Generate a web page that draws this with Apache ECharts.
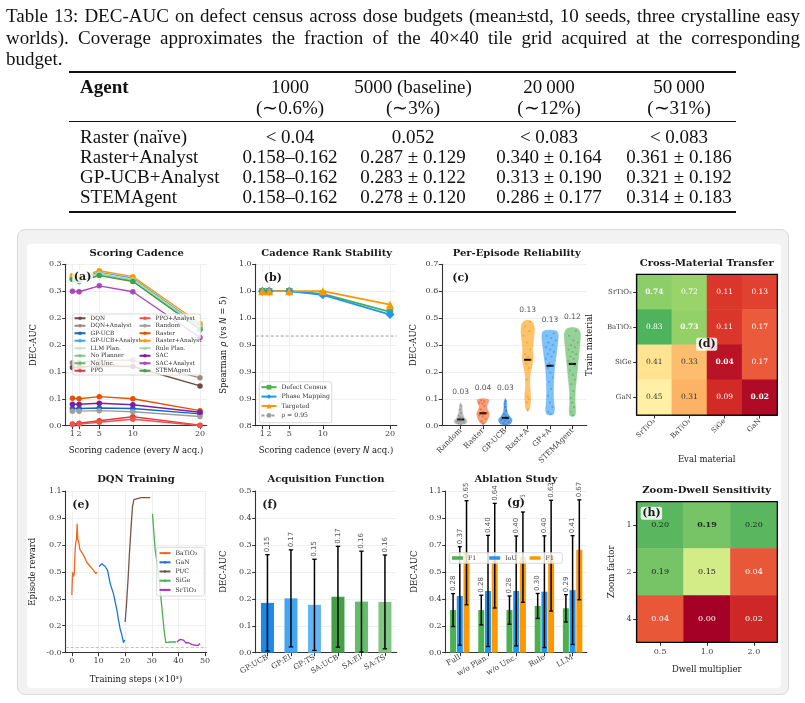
<!DOCTYPE html>
<html>
<head>
<meta charset="utf-8">
<script src="https://cdn.jsdelivr.net/npm/echarts@6/dist/echarts.min.js"></script>
<style>
  html, body { margin: 0; padding: 0; background: #fff; width: 805px; height: 703px; overflow: hidden; }
  #frame { position: absolute; left: 17px; top: 229px; width: 770px; height: 464px; background: #f2f2f2;
           border: 1px solid #d9d9d9; border-radius: 8px; }
  #inner { position: absolute; left: 27px; top: 244px; width: 754px; height: 444px; background: #fff; border-radius: 3px; }
  #chart { position: absolute; left: 0; top: 0; width: 805px; height: 703px; }
  .t { position: absolute; font-family: 'Liberation Serif', serif; font-size: 19px; color: #111; white-space: nowrap; line-height: 20px; }
  .cap { left: 6px; width: 794px; }
  .just { text-align: justify; text-align-last: justify; }
  .c { transform: translate(-50%, -50%); }
  .l { transform: translateY(-50%); }
  .rule { position: absolute; background: #111; }
</style>
</head>
<body>
<div id="frame"></div>
<div id="inner"></div>
<div id="chart"></div>
<div id="doc"></div>
<script>
// ---------------- caption + table ----------------
const captionLines = [
  'Table 13: DEC-AUC on defect census across dose budgets (mean\u00b1std, 10 seeds, three crystalline easy',
  'worlds). Coverage approximates the fraction of the 40\u00d740 tile grid acquired at the corresponding',
  'budget.'
];
const budgetHead = ['1000', '5000 (baseline)', '20\u2009000', '50\u2009000'];
const coverageHead = ['(\u223c0.6%)', '(\u223c3%)', '(\u223c12%)', '(\u223c31%)'];
const tableAgents = ['Raster (na\u00efve)', 'Raster+Analyst', 'GP-UCB+Analyst', 'STEMAgent'];
const tableCells = [
  ['< 0.04', '0.052', '< 0.083', '< 0.083'],
  ['0.158\u20130.162', '0.287 \u00b1 0.129', '0.340 \u00b1 0.164', '0.361 \u00b1 0.186'],
  ['0.158\u20130.162', '0.283 \u00b1 0.122', '0.313 \u00b1 0.190', '0.321 \u00b1 0.192'],
  ['0.158\u20130.162', '0.278 \u00b1 0.120', '0.286 \u00b1 0.177', '0.314 \u00b1 0.183']
];

// ---------------- (a) scoring cadence ----------------
const cadence = [1, 2, 5, 10, 20];
const aDQN           = [0.108, 0.109, 0.111, 0.110, 0.074];
const aDQNAnalyst    = [0.117, 0.118, 0.121, 0.122, 0.089];
const aGPUCB         = [0.032, 0.032, 0.033, 0.032, 0.022];
const aGPUCBAnalyst  = [0.276, 0.274, 0.285, 0.274, 0.185];
const aLLMPlan       = [0.275, 0.272, 0.283, 0.272, 0.183];
const aNoPlanner     = [0.273, 0.270, 0.281, 0.270, 0.181];
const aNoUnc         = [0.272, 0.269, 0.280, 0.269, 0.180];
const aPPO           = [0.003, 0.0045, 0.0093, 0.0167, 0.001];
const aPPOAnalyst    = [0.002, 0.003, 0.0063, 0.0119, 0.0005];
const aRandom        = [0.027, 0.027, 0.028, 0.026, 0.017];
const aRaster        = [0.051, 0.050, 0.054, 0.050, 0.028];
const aRasterAnalyst = [0.279, 0.277, 0.288, 0.277, 0.190];
const aRulePlan      = [0.274, 0.271, 0.282, 0.271, 0.182];
const aSAC           = [0.040, 0.040, 0.0416, 0.039, 0.025];
const aSACAnalyst    = [0.250, 0.249, 0.260, 0.249, 0.164];
const aSTEMAgent     = [0.272, 0.268, 0.279, 0.268, 0.179];
const aYTicks = [0, 0.05, 0.1, 0.15, 0.2, 0.25, 0.3];
const aYLabels = ['0.0', '0.1', '0.1', '0.2', '0.2', '0.3', '0.3'];

// ---------------- (b) rank stability ----------------
const bDefect   = [1.0, 1.0, 1.0, 0.997, 0.977];
const bPhase    = [1.0, 1.0, 1.0, 0.996, 0.974];
const bTargeted = [1.0, 1.0, 1.0, 1.0, 0.985];
const bRho = 0.95;
const bYTicks = [0.85, 0.88, 0.91, 0.94, 0.97, 1.0, 1.03];
const bYLabels = ['0.8', '0.9', '0.9', '0.9', '1.0', '1.0', '1.0'];

// ---------------- (c) per-episode reliability ----------------
const cNames  = ['Random', 'Raster', 'GP-UCB', 'Rast+A', 'GP+A', 'STEMAgent'];
const cMedian = [0.027, 0.054, 0.034, 0.286, 0.260, 0.268];
const cStdLabels = ['0.03', '0.04', '0.03', '0.13', '0.13', '0.12'];
// violin outlines: [value, half-width]
const cShapeRandom = [[0.005,0],[0.008,0.2],[0.015,0.28],[0.025,0.26],[0.035,0.17],[0.05,0.1],[0.07,0.07],[0.09,0.045],[0.1,0]];
const cShapeRaster = [[0.005,0],[0.012,0.12],[0.025,0.2],[0.04,0.26],[0.055,0.28],[0.07,0.2],[0.085,0.17],[0.1,0.24],[0.113,0.25],[0.118,0]];
const cShapeGPUCB  = [[0.002,0],[0.006,0.2],[0.015,0.28],[0.028,0.3],[0.04,0.2],[0.055,0.1],[0.07,0.07],[0.09,0.06],[0.11,0.04],[0.118,0]];
const cShapeRastA  = [[0.061,0],[0.075,0.08],[0.1,0.12],[0.13,0.13],[0.17,0.1],[0.21,0.1],[0.25,0.17],[0.29,0.24],[0.33,0.22],[0.37,0.26],[0.41,0.3],[0.44,0.27],[0.452,0.18],[0.458,0]];
const cShapeGPA    = [[0.046,0],[0.05,0.15],[0.07,0.2],[0.1,0.17],[0.15,0.15],[0.2,0.17],[0.25,0.2],[0.3,0.27],[0.35,0.33],[0.39,0.37],[0.41,0.3],[0.415,0]];
const cShapeSTEM   = [[0.039,0],[0.045,0.12],[0.07,0.14],[0.1,0.12],[0.15,0.13],[0.2,0.18],[0.25,0.23],[0.3,0.28],[0.35,0.33],[0.4,0.36],[0.42,0.25],[0.427,0]];
const cPtsRandom = [0.006,0.01,0.013,0.016,0.018,0.02,0.022,0.024,0.027,0.03,0.033,0.038,0.045,0.055,0.07,0.085];
const cPtsRaster = [0.01,0.02,0.03,0.04,0.045,0.05,0.052,0.056,0.06,0.07,0.085,0.095,0.1,0.105,0.11];
const cPtsGPUCB  = [0.006,0.01,0.015,0.02,0.024,0.028,0.032,0.036,0.04,0.05,0.065,0.08,0.095,0.105];
const cPtsRastA  = [0.07,0.1,0.115,0.125,0.2,0.25,0.27,0.285,0.3,0.31,0.33,0.36,0.39,0.41,0.43,0.45];
const cPtsGPA    = [0.05,0.06,0.08,0.1,0.13,0.16,0.19,0.21,0.23,0.25,0.26,0.27,0.29,0.3,0.31,0.32,0.33,0.34,0.35,0.36,0.37,0.38,0.39,0.4];
const cPtsSTEM   = [0.045,0.06,0.08,0.1,0.12,0.15,0.18,0.2,0.22,0.24,0.26,0.27,0.28,0.29,0.3,0.31,0.32,0.33,0.34,0.35,0.36,0.37,0.39,0.41];
const cYTicks = [0, 0.11667, 0.23333, 0.35, 0.46667, 0.58333, 0.7];
const cYLabels = ['0.0', '0.1', '0.2', '0.3', '0.5', '0.6', '0.7'];

// ---------------- (d) cross-material transfer ----------------
const dMaterials = ['SrTiO\u2083', 'BaTiO\u2083', 'SiGe', 'GaN'];
const dTransfer = [
  [0.74, 0.72, 0.11, 0.13],
  [0.83, 0.73, 0.11, 0.17],
  [0.41, 0.33, 0.04, 0.17],
  [0.45, 0.31, 0.09, 0.02]
];

// ---------------- (e) DQN training ----------------
const eBaTiO3 = [[0,0.37],[0.25,0.53],[0.6,0.50],[0.9,0.52],[1.25,0.69],[1.5,0.74],[1.75,0.76],[2.0,0.87],[2.25,0.76],[2.6,0.74],[3.0,0.69],[3.5,0.70],[4.4,0.65],[5.6,0.60],[6.9,0.57],[8.1,0.545],[9.0,0.52],[9.6,0.53]];
const eGaN    = [[10.25,0.57],[11.25,0.59],[12.5,0.57],[13.4,0.545],[14.4,0.45],[15.6,0.38],[16.9,0.265],[17.5,0.195],[18.1,0.135],[18.75,0.09],[19.4,0.035],[19.8,0.055]];
const ePtC    = [[20,0.18],[20.5,0.30],[21.1,0.48],[21.6,0.66],[22.25,0.85],[22.75,0.99],[23.3,1.04],[23.75,1.053],[26,1.053],[29.4,1.053]];
const eSiGe   = [[30.25,0.94],[31.25,0.69],[31.8,0.62],[32.5,0.52],[33.75,0.29],[34.6,0.125],[35.25,0.035],[36.9,0.04],[39.1,0.04]];
const eSrTiO3 = [[39.4,0.04],[40.6,0.058],[41.9,0.053],[42.75,0.035],[43.75,0.035],[45,0.023],[46.5,0.016],[47.5,0.017],[48.1,0.03]];
const eXTicks = [0, 10, 20, 30, 40, 50];
const eXLabels = ['0', '10', '20', '30', '40', '50'];
const eYTicks = [-0.035, 0.15417, 0.34333, 0.5325, 0.72167, 0.91083, 1.1];
const eYLabels = ['-0.0', '0.2', '0.3', '0.5', '0.7', '0.9', '1.1'];

// ---------------- (f) acquisition function ----------------
const fNames = ['GP:UCB', 'GP:EI', 'GP:TS', 'SA:UCB', 'SA:EI', 'SA:TS'];
const fMean  = [0.154, 0.168, 0.148, 0.173, 0.158, 0.157];
const fStd   = [0.149, 0.150, 0.141, 0.156, 0.156, 0.145];
const fYTicks = [0, 0.08333, 0.16667, 0.25, 0.33333, 0.41667, 0.5];
const fYLabels = ['0.0', '0.1', '0.2', '0.2', '0.3', '0.4', '0.5'];

// ---------------- (g) ablation ----------------
const gNames = ['Full', 'w/o Plan.', 'w/o Unc.', 'Rule', 'LLM'];
const gF1    = [0.290, 0.290, 0.290, 0.318, 0.302];
const gF1Sd  = [0.112, 0.101, 0.096, 0.085, 0.093];
const gIoU   = [0.386, 0.420, 0.420, 0.415, 0.426];
const gIoUSd = [0.335, 0.378, 0.374, 0.380, 0.370];
const gF1b   = [0.680, 0.660, 0.650, 0.660, 0.700];
const gF1bSd = [0.354, 0.356, 0.307, 0.377, 0.340];
const gF1Text   = ['0.28', '0.28', '0.28', '0.30', '0.29'];
const gIoUText  = ['0.37', '0.40', '0.40', '0.40', '0.41'];
const gF1bText  = ['0.65', '0.64', '0.65', '0.63', '0.67'];
const gYTicks = [0, 0.18333, 0.36667, 0.55, 0.73333, 0.91667, 1.1];
const gYLabels = ['0.0', '0.2', '0.4', '0.5', '0.7', '0.9', '1.1'];

// ---------------- (h) zoom-dwell ----------------
const hDwell = ['0.5', '1.0', '2.0'];
const hZoom = ['1', '2', '4'];
const hSens = [
  [0.20, 0.19, 0.20],
  [0.19, 0.15, 0.04],
  [0.04, 0.00, 0.02]
];

// ================= page text =================
const doc = document.getElementById('doc');
function put(text, x, y, cls, extra) {
  const d = document.createElement('div');
  d.className = 't ' + (cls || '');
  d.textContent = text;
  d.style.left = x + 'px';
  d.style.top = y + 'px';
  if (extra) Object.assign(d.style, extra);
  doc.appendChild(d);
  return d;
}
function rule(x, y, w, h) {
  const d = document.createElement('div');
  d.className = 'rule';
  Object.assign(d.style, {left: x + 'px', top: y + 'px', width: w + 'px', height: h + 'px'});
  doc.appendChild(d);
}
captionLines.forEach(function (s, i) {
  const d = put(s, 6, 5 + i * 21.5, 'cap' + (i < 2 ? ' just' : ''));
  d.style.lineHeight = '21px';
});
const colX = [290, 413, 549, 679];
rule(69, 71, 667, 1.5);
put('Agent', 80, 87, 'l', {fontWeight: 'bold'});
budgetHead.forEach(function (s, j) { put(s, colX[j], 87, 'c'); });
coverageHead.forEach(function (s, j) { put(s, colX[j], 108, 'c'); });
rule(69, 121, 667, 1);
tableAgents.forEach(function (a, i) {
  put(a, 80, 137 + i * 20, 'l');
  tableCells[i].forEach(function (s, j) { put(s, colX[j], 137 + i * 20, 'c'); });
});
rule(69, 211, 667, 1.5);

// ================= chart =================
const SERIF = 'DejaVu Serif';
const SANS = 'DejaVu Sans';

function pick(v, ticks, labels) {
  for (let i = 0; i < ticks.length; i++) {
    if (Math.abs(ticks[i] - v) < 1e-6) return labels[i];
  }
  return '';
}
function merge(base, more) {
  if (!more) return base;
  for (const k in more) {
    if (more[k] && typeof more[k] === 'object' && !Array.isArray(more[k]) && base[k] && typeof base[k] === 'object') {
      base[k] = Object.assign({}, base[k], more[k]);
    } else {
      base[k] = more[k];
    }
  }
  return base;
}
function valueAxis(gi, min, max, ticks, labels, more) {
  return merge({
    type: 'value', gridIndex: gi, min: min, max: max,
    axisLine: {show: true, onZero: false, lineStyle: {color: '#333', width: 1.1}},
    axisTick: {show: true, length: 3.5, customValues: ticks, lineStyle: {color: '#333', width: 1}},
    axisLabel: {customValues: ticks, formatter: function (v) { return pick(v, ticks, labels); },
      fontFamily: SERIF, fontSize: 8, color: '#3c3c3c', margin: 4},
    splitLine: {show: true, lineStyle: {color: '#ebebeb', width: 0.8}}
  }, more);
}
function catAxis(gi, names, more) {
  return merge({
    type: 'category', gridIndex: gi, data: names, boundaryGap: true,
    axisLine: {show: true, onZero: false, lineStyle: {color: '#333', width: 1.1}},
    axisTick: {show: true, alignWithLabel: true, length: 3.5, lineStyle: {color: '#333', width: 1}},
    axisLabel: {fontFamily: SERIF, fontSize: 7.5, color: '#3c3c3c', margin: 4, interval: 0},
    splitLine: {show: false}
  }, more);
}

const grids = [
  {left: 65.7, top: 264.3, width: 141, height: 161.4},
  {left: 255.7, top: 264.3, width: 141, height: 161.4},
  {left: 442.3, top: 264.3, width: 144.4, height: 161.4},
  {left: 636.7, top: 274.3, width: 140.6, height: 140.7},
  {left: 65.7, top: 491, width: 141, height: 161.7},
  {left: 255.7, top: 491, width: 141, height: 161.7},
  {left: 445.7, top: 491, width: 141, height: 161.7},
  {left: 636.7, top: 501.7, width: 140.6, height: 140.6}
].map(function (g) { return Object.assign({containLabel: false, outerBoundsMode: 'none'}, g); });

const xAxes = [
  valueAxis(0, 0, 21, cadence, cadence.map(String)),
  valueAxis(1, 0, 21, cadence, cadence.map(String)),
  valueAxis(2, -0.82, 5.64, [0, 1, 2, 3, 4, 5], cNames, {
    splitLine: {show: false}, axisLabel: {rotate: 45, fontSize: 7.5, margin: 4}}),
  catAxis(3, dMaterials, {axisLine: {lineStyle: {color: '#000', width: 1.2}}, axisLabel: {rotate: 45, fontSize: 7, margin: 5}}),
  valueAxis(4, -2.3, 50.6, eXTicks, eXLabels),
  catAxis(5, fNames, {axisLabel: {rotate: 30, fontSize: 7.5}}),
  catAxis(6, gNames, {axisLabel: {rotate: 30, fontSize: 7.5}}),
  catAxis(7, hDwell, {axisLine: {lineStyle: {color: '#000', width: 1.2}}, axisLabel: {fontSize: 8, margin: 6}})
];
const yAxes = [
  valueAxis(0, 0, 0.3, aYTicks, aYLabels),
  valueAxis(1, 0.85, 1.03, bYTicks, bYLabels),
  valueAxis(2, 0, 0.7, cYTicks, cYLabels),
  catAxis(3, dMaterials, {inverse: true, axisLine: {lineStyle: {color: '#000', width: 1.2}}, axisLabel: {fontSize: 7, margin: 5}}),
  valueAxis(4, -0.035, 1.1, eYTicks, eYLabels),
  valueAxis(5, 0, 0.5, fYTicks, fYLabels),
  valueAxis(6, 0, 1.1, gYTicks, gYLabels),
  catAxis(7, hZoom, {inverse: true, axisLine: {lineStyle: {color: '#000', width: 1.2}}, axisLabel: {fontSize: 8, margin: 5}})
];

const series = [];
const legends = [];

// (a)
const aSeries = [
  ['DQN', aDQN, '#6d4c41'], ['DQN+Analyst', aDQNAnalyst, '#a1887f'],
  ['GP-UCB', aGPUCB, '#1565c0'], ['GP-UCB+Analyst', aGPUCBAnalyst, '#42a5f5'],
  ['LLM Plan.', aLLMPlan, '#c8e6c9'], ['No Planner', aNoPlanner, '#81c784'],
  ['No Unc.', aNoUnc, '#66bb6a'], ['PPO', aPPO, '#e53935'],
  ['PPO+Analyst', aPPOAnalyst, '#ef5350'], ['Random', aRandom, '#9e9e9e'],
  ['Raster', aRaster, '#e65100'], ['Raster+Analyst', aRasterAnalyst, '#ff9800'],
  ['Rule Plan.', aRulePlan, '#a5d6a7'], ['SAC', aSAC, '#7b1fa2'],
  ['SAC+Analyst', aSACAnalyst, '#ab47bc'], ['STEMAgent', aSTEMAgent, '#43a047']
];
aSeries.forEach(function (s) {
  series.push({
    type: 'line', name: s[0], xAxisIndex: 0, yAxisIndex: 0,
    data: cadence.map(function (c, j) { return [c, s[1][j]]; }),
    symbol: 'circle', symbolSize: 5.5, showSymbol: true,
    lineStyle: {color: s[2], width: 1.4}, itemStyle: {color: s[2]}, z: 3
  });
});
const aNames = aSeries.map(function (s) { return s[0]; });
const legendText = function (size, lh) {
  return {fontFamily: SERIF, fontSize: size, lineHeight: lh, color: '#333'};
};
legends.push({orient: 'vertical', left: 73.5, top: 314.5, itemWidth: 11, itemHeight: 4.5, itemGap: 0, padding: 0,
  data: aNames.slice(0, 8), textStyle: legendText(5.8, 7.5), selectedMode: false, z: 30});
legends.push({orient: 'vertical', left: 138.5, top: 314.5, itemWidth: 11, itemHeight: 4.5, itemGap: 0, padding: 0,
  data: aNames.slice(8), textStyle: legendText(5.8, 7.5), selectedMode: false, z: 30});

// (b)
[['Defect Census', bDefect, '#4caf50', 'rect', 6.5],
 ['Phase Mapping', bPhase, '#2196f3', 'diamond', 9],
 ['Targeted', bTargeted, '#ff9800', 'triangle', 8]].forEach(function (s) {
  series.push({
    type: 'line', name: s[0], xAxisIndex: 1, yAxisIndex: 1,
    data: cadence.map(function (c, j) { return [c, s[1][j]]; }),
    symbol: s[3], symbolSize: s[4], lineStyle: {color: s[2], width: 1.8}, itemStyle: {color: s[2]}, z: 3
  });
});
series.push({
  type: 'line', name: '\u03c1 = 0.95', xAxisIndex: 1, yAxisIndex: 1,
  data: [[0, bRho], [21, bRho]], symbol: 'none',
  lineStyle: {color: '#9e9e9e', width: 1, type: [3, 2]}, itemStyle: {color: '#9e9e9e'}, z: 2
});
legends.push({orient: 'vertical', left: 260.5, top: 382.5, itemWidth: 15, itemHeight: 6, itemGap: 0, padding: 0,
  data: ['Defect Census', 'Phase Mapping', 'Targeted', '\u03c1 = 0.95'],
  textStyle: legendText(6.2, 9.4), selectedMode: false, z: 30});

// (c)
const cShapes = [cShapeRandom, cShapeRaster, cShapeGPUCB, cShapeRastA, cShapeGPA, cShapeSTEM];
const cPoints = [cPtsRandom, cPtsRaster, cPtsGPUCB, cPtsRastA, cPtsGPA, cPtsSTEM];
const cColors = ['#9e9e9e', '#f4733a', '#1e7fd8', '#ffa726', '#42a5f5', '#66bb6a'];
const cDots = ['#757575', '#d84315', '#1565c0', '#ef8a00', '#1e88e5', '#43a047'];
function halfAt(prof, v) {
  if (v <= prof[0][0]) return prof[0][1];
  for (let k = 1; k < prof.length; k++) {
    if (v <= prof[k][0]) {
      const a = prof[k - 1], b = prof[k];
      return a[1] + (v - a[0]) / (b[0] - a[0]) * (b[1] - a[1]);
    }
  }
  return 0;
}
series.push({
  type: 'custom', name: 'violins', xAxisIndex: 2, yAxisIndex: 2,
  data: cNames.map(function (n, i) { return [i, cMedian[i]]; }),
  encode: {x: 0, y: 1}, clip: false, z: 2,
  renderItem: function (params, api) {
    const i = api.value(0);
    const prof = cShapes[i];
    const right = prof.map(function (p) { return api.coord([i + p[1], p[0]]); });
    const left = prof.map(function (p) { return api.coord([i - p[1], p[0]]); }).reverse();
    const m0 = api.coord([i - 0.16, api.value(1)]);
    const m1 = api.coord([i + 0.16, api.value(1)]);
    const top = api.coord([i, prof[prof.length - 1][0] + 0.045]);
    return {type: 'group', children: [
      {type: 'polygon', shape: {points: right.concat(left), smooth: 0.25},
       style: {fill: cColors[i], opacity: 0.68, stroke: cColors[i], lineWidth: 0.5}},
      {type: 'line', shape: {x1: m0[0], y1: m0[1], x2: m1[0], y2: m1[1]}, style: {stroke: '#000', lineWidth: 2}, z2: 20},
      {type: 'text', x: top[0], y: top[1],
       style: {text: cStdLabels[i], fill: '#555', fontSize: 7.5, fontFamily: SANS,
               align: 'center', verticalAlign: 'middle', textAlign: 'center', textVerticalAlign: 'middle'}}
    ]};
  }
});
const cScatter = [];
cPoints.forEach(function (pts, i) {
  pts.forEach(function (v, k) {
    const s = (((k + 1) * 0.6180339) % 1) * 2 - 1;
    cScatter.push({value: [i + s * 0.75 * halfAt(cShapes[i], v), v], itemStyle: {color: cDots[i]}});
  });
});
series.push({
  type: 'scatter', name: 'episodes', xAxisIndex: 2, yAxisIndex: 2, data: cScatter,
  symbolSize: 2.3, itemStyle: {opacity: 0.45}, z: 3
});

// (d) heatmap
const dData = [];
dTransfer.forEach(function (row, r) {
  row.forEach(function (v, c) {
    dData.push({value: [c, r, v], label: {
      color: (v < 0.25 || v > 0.6) ? '#fff' : '#333',
      fontWeight: r === c ? 'bold' : 'normal'}});
  });
});
const dIndex = series.length;
series.push({
  type: 'heatmap', name: 'transfer', xAxisIndex: 3, yAxisIndex: 3, data: dData,
  label: {show: true, fontFamily: SERIF, fontSize: 7.5, formatter: function (p) { return p.value[2].toFixed(2); }},
  itemStyle: {borderWidth: 0}, z: 2
});

// (e)
[['BaTiO\u2083', eBaTiO3, '#f4661b'], ['GaN', eGaN, '#1e73d2'], ['Pt/C', ePtC, '#795548'],
 ['SiGe', eSiGe, '#4caf50'], ['SrTiO\u2083', eSrTiO3, '#a830c0']].forEach(function (s, i) {
  const o = {
    type: 'line', name: s[0], xAxisIndex: 4, yAxisIndex: 4, data: s[1], symbol: 'none',
    lineStyle: {color: s[2], width: 1.3}, itemStyle: {color: s[2]}, z: 3
  };
  if (i === 0) {
    o.markLine = {silent: true, symbol: 'none', label: {show: false},
      lineStyle: {type: [3, 2], color: '#b0b0b0', width: 0.8}, data: [{yAxis: 0}]};
  }
  series.push(o);
});
legends.push({orient: 'vertical', left: 158.5, top: 548.5, itemWidth: 11, itemHeight: 3, itemGap: 0, padding: 0,
  data: ['BaTiO\u2083', 'GaN', 'Pt/C', 'SiGe', 'SrTiO\u2083'], textStyle: legendText(6.2, 9.2), selectedMode: false, z: 30});

// (f)
const fColors = ['#1e88e5', '#42a5f5', '#64b5f6', '#43a047', '#66bb6a', '#81c784'];
series.push({
  type: 'bar', name: 'acquisition', xAxisIndex: 5, yAxisIndex: 5, barWidth: 13,
  data: fMean.map(function (v, i) { return {value: v, itemStyle: {color: fColors[i]}}; }), z: 2
});
function errItem(api, cx, lo, hi, text, cap) {
  const p0 = api.coord([0, lo]), p1 = api.coord([0, hi]);
  return [
    {type: 'line', shape: {x1: cx, y1: p0[1], x2: cx, y2: p1[1]}, style: {stroke: '#000', lineWidth: 1.5}},
    {type: 'line', shape: {x1: cx - cap, y1: p0[1], x2: cx + cap, y2: p0[1]}, style: {stroke: '#000', lineWidth: 1.3}},
    {type: 'line', shape: {x1: cx - cap, y1: p1[1], x2: cx + cap, y2: p1[1]}, style: {stroke: '#000', lineWidth: 1.3}},
    {type: 'text', x: cx, y: p1[1] - 2.5, rotation: Math.PI / 2,
     style: {text: text, fill: '#555', fontSize: 7, fontFamily: SANS,
             align: 'left', verticalAlign: 'middle', textAlign: 'left', textVerticalAlign: 'middle'}}
  ];
}
series.push({
  type: 'custom', name: 'acqErr', xAxisIndex: 5, yAxisIndex: 5, clip: false, z: 4,
  data: fMean.map(function (m, i) { return [i, m - fStd[i], m + fStd[i]]; }),
  encode: {x: 0, y: [1, 2]},
  renderItem: function (params, api) {
    const i = api.value(0);
    const cx = api.coord([i, 0])[0];
    return {type: 'group', children: errItem(api, cx, api.value(1), api.value(2), fMean[i].toFixed(2), 2.2)};
  }
});

// (g)
const gSets = [['F1', gF1, gF1Sd, gF1Text, '#4caf50'], ['IoU', gIoU, gIoUSd, gIoUText, '#2196f3'], ['F1 ', gF1b, gF1bSd, gF1bText, '#ff9800']];
gSets.forEach(function (s) {
  series.push({type: 'bar', name: s[0], xAxisIndex: 6, yAxisIndex: 6, barWidth: 6, barGap: '12%',
    data: s[1], itemStyle: {color: s[4]}, z: 2});
});
const gErrData = [];
gSets.forEach(function (s, k) {
  s[1].forEach(function (m, i) { gErrData.push([i, m - s[2][i], m + s[2][i], k]); });
});
series.push({
  type: 'custom', name: 'ablErr', xAxisIndex: 6, yAxisIndex: 6, clip: false, z: 4,
  data: gErrData, encode: {x: 0, y: [1, 2]},
  renderItem: function (params, api) {
    const i = api.value(0), k = api.value(3);
    const cx = api.coord([i, 0])[0] + (k - 1) * 6.72;
    return {type: 'group', children: errItem(api, cx, api.value(1), api.value(2), gSets[k][3][i], 2)};
  }
});
legends.push({orient: 'horizontal', left: 452, top: 554.5, itemWidth: 11, itemHeight: 3.5, itemGap: 13, padding: 0,
  icon: 'rect', data: ['F1', 'IoU', 'F1 '], textStyle: legendText(6.2, 7), selectedMode: false, z: 30});

// (h)
const hData = [];
hSens.forEach(function (row, r) {
  row.forEach(function (v, c) {
    hData.push({value: [c, r, v], label: {
      color: v < 0.1 ? '#fff' : '#222', fontWeight: (r === 0 && c === 1) ? 'bold' : 'normal'}});
  });
});
const hIndex = series.length;
series.push({
  type: 'heatmap', name: 'zoomdwell', xAxisIndex: 7, yAxisIndex: 7, data: hData,
  label: {show: true, fontFamily: SERIF, fontSize: 8, formatter: function (p) { return p.value[2].toFixed(2); }},
  itemStyle: {borderWidth: 0}, z: 2
});

const RdYlGn = ['#a50026', '#d73027', '#f46d43', '#fdae61', '#fee08b', '#ffffbf', '#d9ef8b', '#a6d96a', '#66bd63', '#1a9850', '#006837'];

// ---------------- graphic overlay text ----------------
function gtext(text, x, y, size, weight, extra) {
  return merge({
    type: 'text', x: x, y: y, z: 40,
    style: {text: text, fill: '#1a1a1a', fontSize: size, fontFamily: SERIF, fontWeight: weight || 'normal',
            align: 'center', verticalAlign: 'middle', textAlign: 'center', textVerticalAlign: 'middle'}
  }, extra);
}
function gbox(x, y, w, h) {
  return {type: 'rect', z: 25, shape: {x: x, y: y, width: w, height: h, r: 2},
    style: {fill: 'rgba(255,255,255,0.82)', stroke: '#cfcfcf', lineWidth: 0.8}};
}
function gborder(g) {
  return {type: 'rect', z: 26, shape: {x: g.left, y: g.top, width: g.width, height: g.height},
    style: {fill: 'none', stroke: '#000', lineWidth: 1.2}};
}
const LETTER_BG = {backgroundColor: 'rgba(255,255,255,0.85)', padding: [1, 1.5], borderRadius: 2};
function letter(t, x, y, alignLeft) {
  const st = Object.assign({}, LETTER_BG);
  if (alignLeft) { st.align = 'left'; st.textAlign = 'left'; }
  return gtext(t, x, y, 11, 'bold', {style: st});
}
const ROT = Math.PI / 2;
const rich = {
  r: {fontFamily: SERIF, fontSize: 8.5, fill: '#1a1a1a'},
  i: {fontFamily: SANS, fontStyle: 'italic', fontSize: 8.5, fill: '#1a1a1a'}
};
const graphics = [
  gbox(72.7, 314, 128, 61), gbox(259.3, 381.7, 72.4, 41), gbox(156.7, 547.3, 47.6, 48.7), gbox(449.3, 552.7, 113, 10.6),
  gborder(grids[3]), gborder(grids[7]),
  gtext('Scoring Cadence', 136.7, 253.3, 10, 'bold'),
  gtext('Cadence Rank Stability', 326.7, 253.3, 10, 'bold'),
  gtext('Per-Episode Reliability', 516.7, 253.3, 10, 'bold'),
  gtext('Cross-Material Transfer', 706.7, 263.3, 10, 'bold'),
  gtext('DQN Training', 136, 479.3, 10, 'bold'),
  gtext('Acquisition Function', 326, 479.3, 10, 'bold'),
  gtext('Ablation Study', 516, 479.3, 10, 'bold'),
  gtext('Zoom-Dwell Sensitivity', 706.7, 490.7, 10, 'bold'),
  letter('(a)', 72.3, 276.7, true),
  letter('(b)', 262.3, 277.7, true),
  letter('(c)', 450.7, 277.7, true),
  letter('(d)', 706.7, 344.3, false),
  letter('(e)', 70.7, 505, true),
  letter('(f)', 260.7, 505, true),
  letter('(g)', 516, 503.3, false),
  letter('(h)', 640.7, 513.3, true),
  gtext('DEC-AUC', 33.3, 345, 8.5, 'normal', {rotation: ROT}),
  gtext('', 136, 450.7, 8.5, 'normal', {style: {text: '{r|Scoring cadence (every }{i|N}{r| acq.)}', rich: rich}}),
  gtext('', 326, 450.7, 8.5, 'normal', {style: {text: '{r|Scoring cadence (every }{i|N}{r| acq.)}', rich: rich}}),
  gtext('', 223.3, 345, 8.5, 'normal', {rotation: ROT, style: {text: '{r|Spearman }{i|\u03c1}{r| (vs }{i|N}{r| = 5)}', rich: rich}}),
  gtext('DEC-AUC', 413.3, 345, 8.5, 'normal', {rotation: ROT}),
  gtext('Train material', 589.5, 345, 8.5, 'normal', {rotation: ROT}),
  gtext('Eval material', 706.7, 459.3, 8.5),
  gtext('Episode reward', 32.7, 571.7, 8.5, 'normal', {rotation: ROT}),
  gtext('Training steps (\u00d710\u00b3)', 136, 679.3, 8.5),
  gtext('DEC-AUC', 223.3, 571.7, 8.5, 'normal', {rotation: ROT}),
  gtext('DEC-AUC', 415, 571.7, 8.5, 'normal', {rotation: ROT}),
  gtext('Zoom factor', 611.7, 571.7, 8.5, 'normal', {rotation: ROT}),
  gtext('Dwell multiplier', 706.7, 669.3, 8.5)
];

const chart = echarts.init(document.getElementById('chart'), null, {renderer: 'canvas'});
chart.setOption({
  animation: false,
  backgroundColor: 'transparent',
  textStyle: {fontFamily: SERIF},
  grid: grids,
  xAxis: xAxes,
  yAxis: yAxes,
  legend: legends,
  visualMap: [
    {type: 'continuous', show: false, seriesIndex: dIndex, min: 0, max: 1, dimension: 2, inRange: {color: RdYlGn}},
    {type: 'continuous', show: false, seriesIndex: hIndex, min: 0, max: 0.245, dimension: 2, inRange: {color: RdYlGn}}
  ],
  graphic: {elements: graphics},
  series: series
});
</script>
</body>
</html>
